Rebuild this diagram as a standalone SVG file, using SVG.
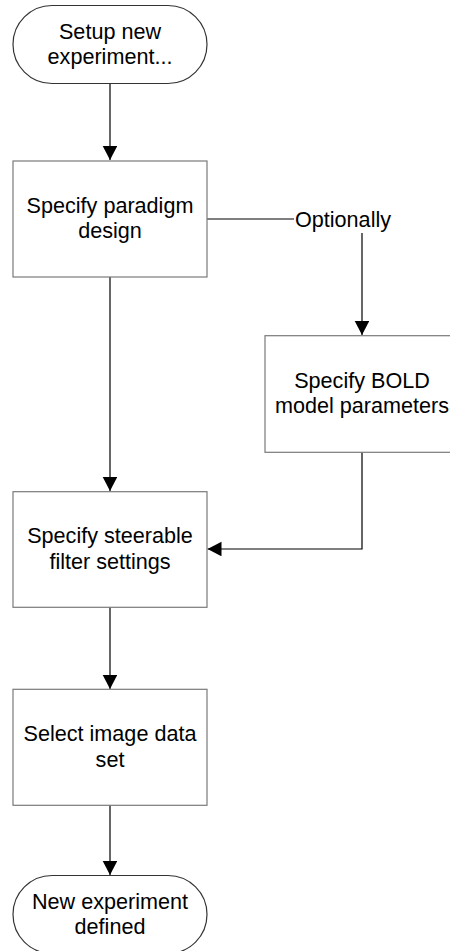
<svg xmlns="http://www.w3.org/2000/svg" width="450" height="951" viewBox="0 0 450 951">
<style>
.node{fill:#fff;stroke:#7a7a7a;stroke-width:1.2}
.term{fill:#fff;stroke:#333;stroke-width:1.2}
.t{font-family:"Liberation Sans",Arial,sans-serif;font-size:21.6px;fill:#000;text-anchor:middle}
.c{fill:none;stroke:#000;stroke-width:1.2}
</style>
<defs>
<marker id="ah" markerWidth="14" markerHeight="15" refX="14" refY="7.3" orient="auto" markerUnits="userSpaceOnUse">
<path d="M0,0 L14,7.3 L0,14.6 Z" fill="#000"/>
</marker>
</defs>
<rect width="450" height="951" fill="#fff"/>
<g id="connectors">
<path class="c" d="M110,83 V160" marker-end="url(#ah)"/>
<path class="c" d="M110,277 V491" marker-end="url(#ah)"/>
<path class="c" d="M207,219 H294"/>
<path class="c" d="M362,233 V335" marker-end="url(#ah)"/>
<path class="c" d="M362,452 V549 H207.5" marker-end="url(#ah)"/>
<path class="c" d="M110,607 V689" marker-end="url(#ah)"/>
<path class="c" d="M110,805 V875" marker-end="url(#ah)"/>
<text class="t" x="295" y="226.5" style="text-anchor:start">Optionally</text>
</g>
<g id="start">
<rect class="term" x="13" y="5.5" width="194" height="78" rx="39" ry="39"/>
<text class="t" x="110" y="38.5">Setup new</text>
<text class="t" x="110" y="63.5">experiment...</text>
</g>
<g id="paradigm">
<rect class="node" x="13" y="161" width="194" height="116"/>
<text class="t" x="110" y="213">Specify paradigm</text>
<text class="t" x="110" y="238">design</text>
</g>
<g id="bold">
<rect class="node" x="265" y="335.7" width="194" height="116.6"/>
<text class="t" x="362" y="388">Specify BOLD</text>
<text class="t" x="362" y="413">model parameters</text>
</g>
<g id="steerable">
<rect class="node" x="13" y="491.7" width="194" height="115.6"/>
<text class="t" x="110" y="543">Specify steerable</text>
<text class="t" x="110" y="568.5">filter settings</text>
</g>
<g id="select">
<rect class="node" x="13" y="689.3" width="194" height="116"/>
<text class="t" x="110" y="741">Select image data</text>
<text class="t" x="110" y="767">set</text>
</g>
<g id="end">
<rect class="term" x="13" y="875.5" width="194" height="78" rx="39" ry="39"/>
<text class="t" x="110" y="908.5">New experiment</text>
<text class="t" x="110" y="933.5">defined</text>
</g>
</svg>
